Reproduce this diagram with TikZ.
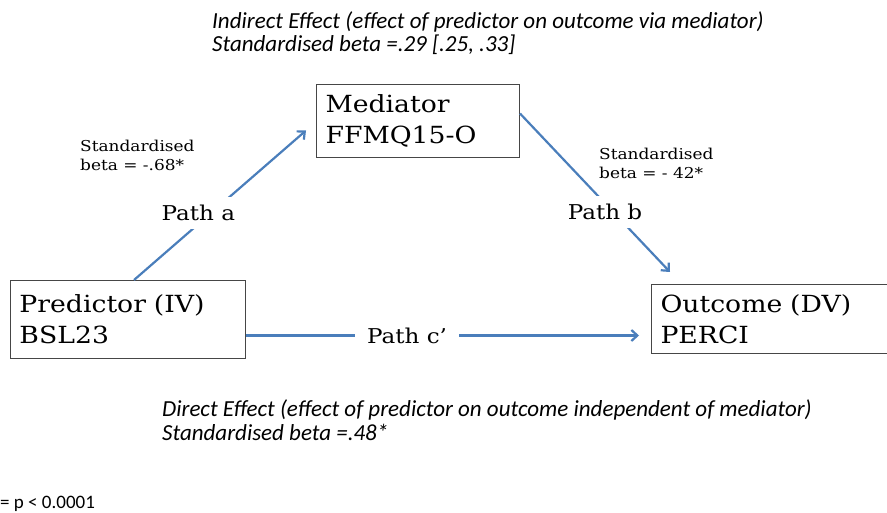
\documentclass[tikz,border=0pt]{standalone}
\usepackage{fontspec}
\setmainfont[FakeStretch=1.13]{DejaVu Serif}
\newfontfamily\effectfont{Carlito}
\usetikzlibrary{positioning}
\usetikzlibrary{arrows.meta}

\definecolor{linkblue}{RGB}{74,126,187}
\definecolor{boxgray}{RGB}{70,70,70}

\tikzset{
	varbox/.style={draw=boxgray, line width=1pt, align=left, anchor=north west, inner xsep=9pt, font=\fontsize{23.6}{31}\selectfont},
	pathlbl/.style={fill=white, inner ysep=8pt, font=\fontsize{20.4}{20.4}\selectfont},
	betalbl/.style={align=left, anchor=base west, inner sep=0pt, font=\fontsize{15}{19}\selectfont},
	effect/.style={align=left, anchor=base west, inner sep=0pt, font=\effectfont\itshape\fontsize{23}{23.5}\selectfont},
	link/.style={draw=linkblue, line width=2.2pt, -{Straight Barb[length=6pt,width=11pt]}}
}

\begin{document}
\begin{tikzpicture}[x=1pt,y=-1pt]
				\useasboundingbox (0,0) rectangle (887,513);
				
				\node[varbox, text width=217pt, minimum height=78pt] (P) at (10,280) {Predictor (IV)\\BSL23};
				\node[varbox, text width=185pt, minimum height=73pt] (M) at (316,84) {Mediator\\FFMQ15-O};
				\node[varbox, text width=223pt, minimum height=69pt] (O) at (651,284) {Outcome (DV)\\PERCI};
				
				% last line baselines
				\node[effect] (ind) at (212,52) {Indirect Effect (effect of predictor on outcome via mediator)\\Standardised beta =.29 [.25, .33]};
				\node[effect] (dir) at (162,440) {Direct Effect (effect of predictor on outcome independent of mediator)\\Standardised beta =.48*};
				\node[betalbl] (ba) at (80,171) {Standardised\\beta = -.68*};
				\node[betalbl] (bb) at (599,179) {Standardised\\beta = - 42*};
				\node[anchor=base west, inner sep=0pt, font=\effectfont\fontsize{19}{19}\selectfont] (sig) at (0,508) {= p < 0.0001};
				
				\draw[link] ([xshift=6pt]P.north) -- ([shift={(-10pt,-9.5pt)}]M.west) node[pathlbl, pos=0.45, xshift=-13pt] (pa) {Path a};
				\draw[link] ([yshift=7.5pt]M.east) -- ([shift={(19pt,12pt)}]O.north west) node[pathlbl, pos=0.62, xshift=-8pt] (pb) {Path b};
				\draw[link] ([yshift=-16pt]P.east) -- ([shift={(-12pt,-16.5pt)}]O.west) node[pathlbl, pos=0.41, inner xsep=12pt] (pc) {Path c'\hspace{19pt}};
			\end{tikzpicture}
\end{document}
